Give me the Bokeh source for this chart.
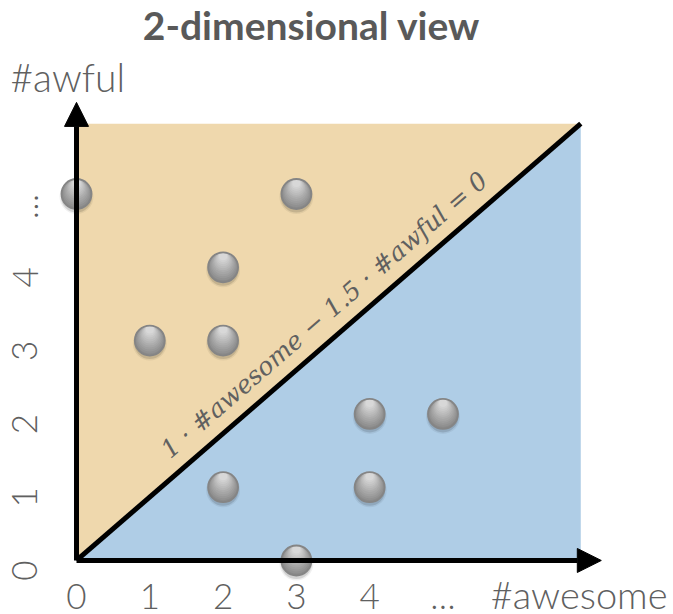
import math
from bokeh.plotting import figure
from bokeh.models import Range1d, FixedTicker, Label, Arrow, NormalHead, ColumnDataSource
from bokeh.embed import file_html
from bokeh.resources import INLINE

# ---- data ----
awesome = [0, 3, 2, 1, 2, 2, 4, 5, 4, 3]
awful = [5, 5, 4, 3, 3, 1, 2, 2, 1, 0]
tick_values = [0, 1, 2, 3, 4, 5]
tick_labels = ["0", "1", "2", "3", "4", "\u2026"]
# extent of the shaded half-planes and of the axis arrows (data units)
awesome_max = 6.88
awful_max = 5.96
awesome_axis_end = 7.16
awful_axis_end = 6.25
equation = "1 \u00b7 #awesome \u2212 1.5 \u00b7 #awful = 0"
eq_pos = (3.38, 3.35)

ORANGE = "#EFD8AD"
BLUE = "#AFCDE6"
GRAY = "#606060"
LIGHT_FONT = "'Lato Light', Lato"

W, H = 673, 614
x0, x1 = -1.037, 8.145
y0, y1 = -0.737, 7.640

p = figure(width=W, height=H, x_range=Range1d(x0, x1), y_range=Range1d(y0, y1),
           output_backend="svg", toolbar_location=None,
           min_border_left=0, min_border_right=0, min_border_top=0, min_border_bottom=0)
p.outline_line_color = None
p.xgrid.visible = False
p.ygrid.visible = False
p.background_fill_color = "white"

for ax, orient in ((p.xaxis[0], "horizontal"), (p.yaxis[0], math.pi / 2)):
    ax.fixed_location = 0
    ax.ticker = FixedTicker(ticks=tick_values)
    ax.major_label_overrides = {v: l for v, l in zip(tick_values, tick_labels)}
    ax.axis_line_color = None
    ax.major_tick_line_color = None
    ax.minor_tick_line_color = None
    ax.major_tick_out = 0
    ax.major_tick_in = 0
    ax.major_label_text_font = LIGHT_FONT
    ax.major_label_text_font_size = "35px"
    ax.major_label_text_color = GRAY
    ax.major_label_orientation = orient
p.xaxis.major_label_standoff = 14
p.yaxis.major_label_standoff = 53

# half-planes
p.patch([0, 0, awesome_max], [0, awful_max, awful_max], fill_color=ORANGE, line_color=None)
p.patch([0, awesome_max, awesome_max], [0, awful_max, 0], fill_color=BLUE, line_color=None)
# decision boundary
p.line([0, awesome_max], [0, awful_max], line_color="black", line_width=5)

# axes arrows
p.add_layout(Arrow(x_start=0, y_start=0, x_end=0, y_end=awful_axis_end, line_width=5, line_color="black",
                   end=NormalHead(size=24, fill_color="black", line_color="black")))
p.add_layout(Arrow(x_start=0, y_start=0, x_end=awesome_axis_end, y_end=0, line_width=5, line_color="black",
                   end=NormalHead(size=24, fill_color="black", line_color="black")))

# equation along the line
angle = math.degrees(math.atan2(awful_max, awesome_max))
p.add_layout(Label(x=eq_pos[0], y=eq_pos[1], text=equation, angle=angle, angle_units="deg",
                   text_font="DejaVu Serif", text_font_style="italic", text_font_size="25px",
                   text_color=GRAY, text_align="center", text_baseline="middle"))

# points with simulated gradient + shadow
px = (y1 - y0) / H
src = ColumnDataSource(dict(x=awesome, y=awful, ys=[v - 3 * px for v in awful]))
p.scatter("x", "ys", source=src, size=34, fill_color="black", fill_alpha=0.06, line_color=None)
p.scatter("x", "ys", source=src, size=31, fill_color="black", fill_alpha=0.12, line_color=None)
p.scatter("x", "y", source=src, size=30, fill_color="#8a8a8a", line_color=None)
c_dark, c_light = 0x8a, 0xd8
for r in range(14, 3, -1):
    t = (15 - r) / 11.0
    g = int(round(c_dark + (c_light - c_dark) * t))
    shift = (15 - r) * px
    p.scatter(awesome, [b + shift for b in awful], size=2 * r,
              fill_color="#%02x%02x%02x" % (g, g, g), line_color=None)
p.scatter("x", "y", source=src, size=30, fill_color=None, line_color="#858585", line_width=1.8)

# title / axis names
p.add_layout(Label(x=311, y=590, x_units="screen", y_units="screen", text="2-dimensional view",
                   text_font="Lato", text_font_style="bold", text_font_size="39px",
                   text_color="#595959", text_align="center", text_baseline="alphabetic"))
p.add_layout(Label(x=10, y=538, x_units="screen", y_units="screen", text="#awful",
                   text_font=LIGHT_FONT, text_font_size="39px", text_color=GRAY,
                   text_align="left", text_baseline="alphabetic"))
p.add_layout(Label(x=667, y=21, x_units="screen", y_units="screen", text="#awesome",
                   text_font=LIGHT_FONT, text_font_size="38px", text_color=GRAY,
                   text_align="right", text_baseline="alphabetic"))

open("out.html", "w").write(file_html(p, INLINE))
